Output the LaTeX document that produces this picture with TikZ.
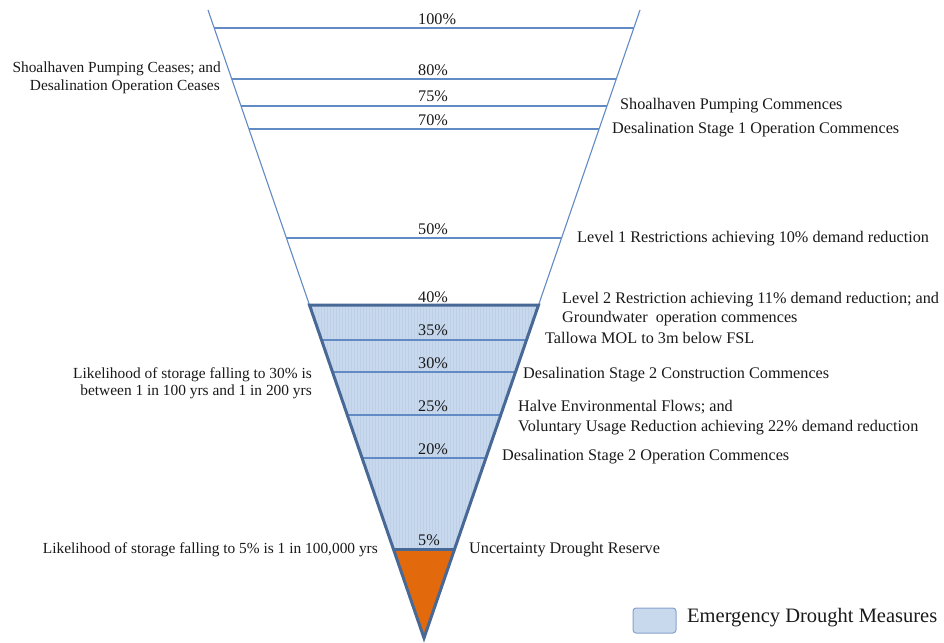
\documentclass[tikz,border=0pt]{standalone}
\usepackage{fontspec}
\setmainfont{Liberation Serif}
\usetikzlibrary{calc}
\definecolor{thinblue}{RGB}{98,138,196}
\definecolor{thickblue}{RGB}{72,104,150}
\definecolor{fillblue}{RGB}{200,216,237}
\definecolor{gridblue}{RGB}{190,207,232}
\definecolor{legendedge}{RGB}{135,162,204}
\definecolor{drought}{RGB}{226,106,12}
\definecolor{txt}{RGB}{25,25,25}
\begin{document}
\begin{tikzpicture}[x=1pt,y=-1pt,
  thinline/.style={thinblue,line width=1.1pt},
  thickline/.style={thickblue,line width=3pt,line join=miter},
  pct/.style={anchor=base west,inner sep=0,font=\fontsize{16.2}{19}\selectfont,text=txt},
  rlabel/.style={anchor=base west,inner sep=0,font=\fontsize{16.2}{19}\selectfont,text=txt},
  llabel/.style={anchor=base east,inner sep=0,font=\fontsize{15.4}{18}\selectfont,text=txt},
  legendbox/.style={draw=legendedge,fill=fillblue,line width=1pt,rounded corners=3pt,minimum width=43pt,minimum height=25pt,inner sep=0}]
\useasboundingbox (0,0) rectangle (944,642);
\coordinate (TL) at (208,10);
\coordinate (TR) at (640,10);
\coordinate (A) at (424,638);
\foreach \n/\y in {100/28,80/79,75/106,70/129,50/238,40/305,35/340,30/372,25/415,20/458,5/549}{
  \coordinate (L\n) at ($(TL)!{(\y-10)/628}!(A)$);
  \coordinate (R\n) at ($(TR)!{(\y-10)/628}!(A)$);
}
% emergency zone
\fill[fillblue] (L40) -- (R40) -- (R5) -- (L5) -- cycle;
\begin{scope}
  \clip (L40) -- (R40) -- (R5) -- (L5) -- cycle;
  \draw[gridblue,line width=0.3pt,step=3] (300,300) grid (560,560);
\end{scope}
% reserve
\fill[drought] (L5) -- (R5) -- (A) -- cycle;
% upper sides
\draw[thinline] (TL) -- (L40);
\draw[thinline] (TR) -- (R40);
\foreach \n in {100,80,75,70,50,35,30,25,20} \draw[thinline] (L\n) -- (R\n);
% lower outline
\draw[thickline] (L40) -- (R40) -- (A) -- cycle;
\draw[thickline] (L5) -- (R5);
% percentages
\foreach \n/\y in {100/25,80/75,75/101,70/125,50/234,40/302,35/335,30/368,25/411,20/454,5/545}
  \node[pct] (p\n) at (418,\y) {\n\%};
% right labels
\node[rlabel] (shc) at (620,109) {Shoalhaven Pumping Commences};
\node[rlabel] (d1) at (612,133) {Desalination Stage 1 Operation Commences};
\node[rlabel] (l1) at (577,242) {Level 1 Restrictions achieving 10\% demand reduction};
\node[rlabel] (l2a) at (562,303) {Level 2 Restriction achieving 11\% demand reduction; and};
\node[rlabel] (l2b) at (562,322) {Groundwater\ \ operation commences};
\node[rlabel] (tal) at (545,343) {Tallowa MOL to 3m below FSL};
\node[rlabel] (d2c) at (523,378) {Desalination Stage 2 Construction Commences};
\node[rlabel] (hef) at (518,411) {Halve Environmental Flows; and};
\node[rlabel] (vur) at (518,431) {Voluntary Usage Reduction achieving 22\% demand reduction};
\node[rlabel] (d2o) at (502,460) {Desalination Stage 2 Operation Commences};
\node[rlabel] (udr) at (469,553) {Uncertainty Drought Reserve};
% left labels
\node[llabel] (spc) at (221,73) {Shoalhaven Pumping Ceases; and};
\node[llabel] (doc) at (220,90) {Desalination Operation Ceases};
\node[llabel] (lk30a) at (312,378) {Likelihood of storage falling to 30\% is};
\node[llabel] (lk30b) at (312,395) {between 1 in 100 yrs and 1 in 200 yrs};
\node[llabel] (lk5) at (378,553) {Likelihood of storage falling to 5\% is 1 in 100,000 yrs};
% legend
\node[legendbox] (lg) at (654.5,620.5) {};
\node[anchor=base west,inner sep=0,font=\fontsize{20.5}{24}\selectfont,text=txt] (lgt) at (687,622) {Emergency Drought Measures};
\end{tikzpicture}
\end{document}
